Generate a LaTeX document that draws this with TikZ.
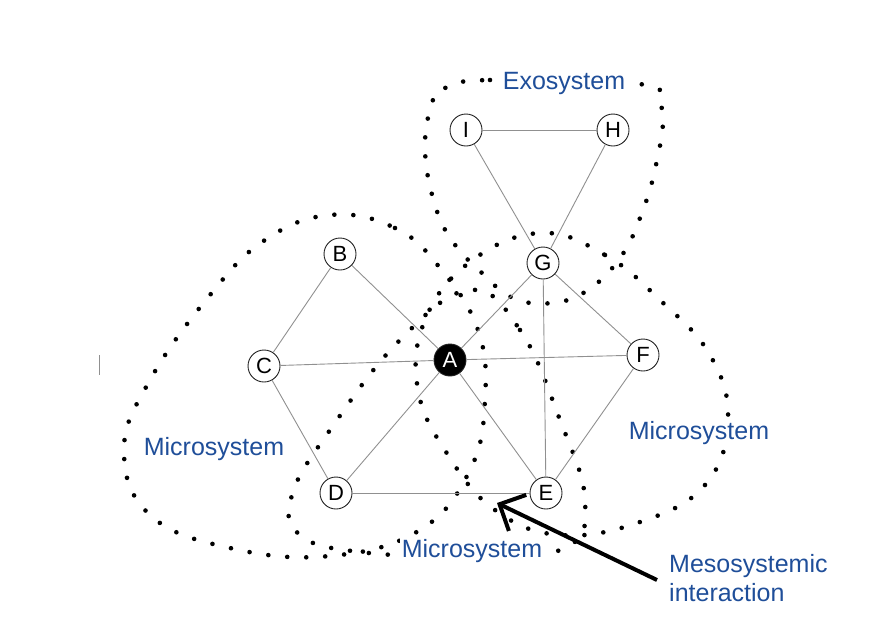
\documentclass[tikz,border=0pt]{standalone}
\usepackage{fontspec}
\setmainfont{Liberation Sans}
\usetikzlibrary{arrows.meta}
\definecolor{ink}{HTML}{222222}
\definecolor{edgegray}{HTML}{909090}
\definecolor{labelblue}{HTML}{1F4E99}
\tikzset{
  member/.style={
    circle,
    draw=ink,
    fill=white,
    line width=0.9pt,
    minimum size=32pt,
    inner sep=0pt,
    font=\fontsize{22}{22}\selectfont
  },
  focus/.style={member, fill=black, text=white},
  tie/.style={draw=edgegray, line width=0.9pt},
  dotloop/.style={
    draw=black,
    line width=4.6pt,
    line cap=round,
    dash pattern=on 0pt off 19pt
  },
  sysname/.style={
    text=labelblue,
    fill=white,
    inner sep=2pt,
    font=\fontsize{25}{29}\selectfont
  },
  pointer/.style={-{Straight Barb[length=20pt, width=40pt]}, line width=4pt, draw=black}
}

\begin{document}
\begin{tikzpicture}[x=1pt, y=-1pt]
\useasboundingbox (0,0) rectangle (884,627);

% dotted system boundaries
\draw[dotloop] plot[smooth cycle, tension=0.7] coordinates {
  (445,88) (490,80) (640,84) (662,110) (656,165) (640,218) (620,258)
  (588,290) (552,303) (513,298) (482,273) (453,242) (435,205) (425,150) (432,103)};
\draw[dotloop] plot[smooth cycle, tension=0.7] coordinates {
  (330,215) (395,228) (440,268) (478,330) (485,400) (470,470) (420,530)
  (330,556) (230,548) (150,515) (124,450) (150,380) (210,295) (265,240)};
\draw[dotloop] plot[smooth cycle, tension=0.7] coordinates {
  (540,233) (605,255) (660,300) (710,355) (728,420) (705,485) (640,522)
  (560,535) (495,510) (448,455) (418,390) (425,320) (470,262)};
\draw[dotloop] plot[smooth cycle, tension=0.7] coordinates {
  (470,290) (520,330) (560,420) (585,500) (565,548) (470,556) (360,552)
  (300,535) (292,495) (330,430) (400,340)};

% stray cursor mark
\draw[edgegray, line width=0.8pt] (99,355) -- (99,375);

% people
\node[member] (I) at (466,130) {I};
\node[member] (H) at (613,130) {H};
\node[member] (G) at (543,263) {G};
\node[member] (B) at (340,254) {B};
\node[member] (C) at (264,366) {C};
\node[focus]  (A) at (450,360) {A};
\node[member] (F) at (643,355) {F};
\node[member] (D) at (336,493) {D};
\node[member] (E) at (546,493) {E};

% ties
\foreach \u/\v in {I/H, I/G, H/G, B/C, B/A, C/A, C/D, D/A, D/E, A/G, A/F, A/E, G/F, G/E, F/E}
  \draw[tie] (\u) -- (\v);

% system names
\node[sysname] (exo) at (564,83) {Exosystem};
\node[sysname] (microleft) at (214,449) {Microsystem};
\node[sysname] (microright) at (699,433) {Microsystem};
\node[sysname] (microbottom) at (472,551) {Microsystem};
\node[sysname, align=left, anchor=west, fill=none] (meso) at (667,578) {Mesosystemic\\interaction};

% mesosystemic pointer
\coordinate (mesotip) at (497,503);
\draw[pointer] (657,580) -- (mesotip);

\end{tikzpicture}
\end{document}
